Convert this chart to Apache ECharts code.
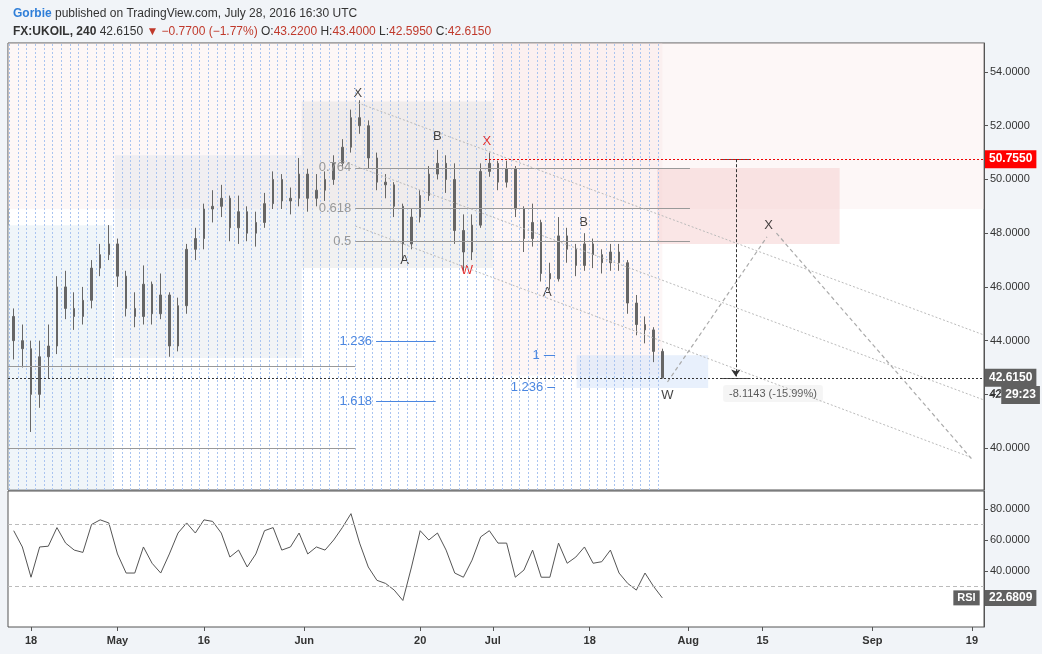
<!DOCTYPE html>
<html lang="en">
<head>
    <meta charset="UTF-8">
    <title>FX:UKOIL 240</title>
    <style>
        html, body { margin: 0; padding: 0; background: #f1f4f8; }
        #main { width: 1042px; height: 654px; }
    </style>
</head>
<body>
<div id="main"></div>
<script src="https://cdn.jsdelivr.net/npm/echarts@6/dist/echarts.min.js"></script>
<script type="text/javascript">
    // x = trading day index, 0 = Apr 18 2016
    var dayIdx = [];
    for (var d = -2; d <= 73; d++) dayIdx.push(d);
    // daily candles [open, close, low, high]
    var ohlc = [
        [44.9,44.0,43.3,45.2],[44.0,43.7,43.0,44.6],[43.7,42.0,40.6,44.0],[42.0,43.4,41.5,44.0],
        [43.4,43.8,42.6,44.6],[43.8,46.0,43.5,46.4],[46.0,45.2,44.8,46.6],[45.2,44.9,44.4,45.8],
        [44.9,45.5,44.6,46.0],[45.5,46.7,45.2,47.0],[46.7,47.2,46.4,47.6],[47.2,47.6,47.0,48.3],
        [47.6,46.4,46.0,47.8],[46.4,45.2,44.9,46.6],[45.2,44.9,44.5,45.8],[44.9,46.1,44.6,46.8],
        [46.1,45.0,44.6,46.2],[45.0,45.7,44.8,46.5],[45.7,43.8,43.4,45.8],[43.8,45.3,43.6,45.6],
        [45.3,47.4,45.0,47.6],[47.4,47.8,47.0,48.2],[47.8,48.9,47.4,49.1],[48.9,49.0,48.4,49.6],
        [49.0,49.3,48.6,49.8],[49.3,48.2,47.7,49.4],[48.2,48.8,47.6,49.4],[48.8,48.0,47.7,49.0],
        [48.0,48.4,47.5,48.8],[48.4,49.1,48.2,49.5],[49.1,50.0,48.9,50.3],[50.0,49.2,48.9,50.2],
        [49.2,49.3,48.7,49.7],[49.3,50.2,49.0,50.8],[50.2,49.3,48.8,50.4],[49.3,49.6,49.0,50.2],
        [49.6,50.0,49.2,50.3],[50.0,50.6,49.8,50.9],[50.6,51.2,50.4,51.5],[51.2,52.3,51.0,52.6],
        [52.3,52.0,51.7,52.95],[52.0,50.8,50.4,52.2],[50.8,49.9,49.6,51.0],[49.9,49.8,49.3,50.2],
        [49.8,49.0,48.6,49.9],[49.0,47.6,47.0,49.1],[47.6,48.6,47.4,48.9],[48.6,49.4,48.4,49.6],
        [49.4,50.2,49.2,50.5],[50.2,50.6,50.0,51.1],[50.6,50.0,49.5,50.9],[50.0,48.1,47.6,50.6],
        [48.1,47.3,46.6,48.7],[47.3,48.3,47.0,48.7],[48.3,50.3,48.2,50.6],[50.3,50.6,50.1,51.0],
        [50.6,49.9,49.6,50.7],[49.9,50.4,49.7,50.7],[50.4,48.9,48.6,50.5],[48.9,47.8,47.3,49.0],
        [47.8,48.4,47.5,49.1],[48.4,46.5,46.2,48.5],[46.5,46.3,45.9,46.9],[46.3,47.9,46.2,48.6],
        [47.9,47.4,46.9,48.2],[47.4,46.8,46.4,47.6],[46.8,47.6,46.6,48.0],[47.6,47.2,46.7,47.8],
        [47.2,46.9,46.5,47.4],[46.9,47.3,46.6,47.6],[47.3,46.9,46.6,47.6],[46.9,45.4,45.0,47.0],
        [45.4,44.6,44.2,45.7],[44.6,44.4,43.9,44.9],[44.4,43.6,43.2,44.5],[43.6,42.615,42.595,43.7]
    ];
    var rsi = [66,55.5,36,55.5,56,68,58,53.5,52,70,73,71,51,38.7,38.7,55.5,45,38.7,51,64.5,
        71,64.5,73,72,64.5,49,53.5,42.6,51,66,68,53.5,55.5,64.5,51,55.5,53.5,60,68,77,
        58,42.6,34,32,27.7,21,42.6,66,60,64.5,53.5,38.7,36,47,62,66,58,58,36,40.6,
        53.5,36,36,58,45,49,55.5,45,46,53.5,38.7,32,27.7,38.7,30,22.68];
    var tickDays = [0, 10, 20, 31.6, 45, 53.4, 64.6, 76, 84.6, 97.3, 108.8];
    var tickNames = ['18', 'May', '16', 'Jun', '20', 'Jul', '18', 'Aug', '15', 'Sep', '19'];
    var priceTicks = [40, 42, 44, 46, 48, 50, 52, 54];
    var rsiTicks = [40, 60, 80];
    var lastPrice = 42.615, swingHigh = 50.755, lastRsi = 22.6809;
    var measureText = '-8.1143 (-15.99%)';
    var fibRet = [[0.764, 50.43], [0.618, 48.94], [0.5, 47.71]];
    var fibExt = [['1.236', 43.98, 39.9, 46.8], ['1.618', 41.75, 39.9, 46.8], ['1', 43.46, 59.3, 60.6], ['1.236', 42.27, 59.7, 60.6]];
    var waves = [[37.8, 53.2, 'X', '#111'], [43.2, 47.0, 'A', '#111'], [47, 51.6, 'B', '#111'],
        [50.4, 46.6, 'W', '#d00'], [52.7, 51.4, 'X', '#d00'], [59.7, 45.8, 'A', '#111'],
        [63.9, 48.4, 'B', '#111'], [73.6, 41.95, 'W', '#111'], [85.3, 48.3, 'X', '#111']];

    var X0 = -2.66, X1 = 110.2;
    var chart = echarts.init(document.getElementById('main'));
    var gridColor = '#555';
    var clear = 'rgba(0,0,0,0)';
    var candles = dayIdx.map(function (d, k) { return [d].concat(ohlc[k]); });
    var rsiData = dayIdx.map(function (d, k) { return [d, rsi[k]]; });
    var sessionLines = dayIdx.map(function (d) { return { xAxis: d - 0.5 }; });
    var dotted = { color: '#bbb', type: [2, 2], width: 1 };
    var darkTag = { show: true, position: 'end', color: '#fff', backgroundColor: '#606060',
        padding: [3, 4], fontSize: 12, fontWeight: 'bold', distance: 1 };

    var option = {
        animation: false,
        backgroundColor: '#f1f4f8',
        title: [{
            left: 8, top: 3,
            text: '{b|Gorbie} published on TradingView.com, July 28, 2016 16:30 UTC',
            textStyle: { fontSize: 12, fontWeight: 'normal', color: '#333', fontFamily: 'Arial',
                rich: { b: { color: '#2f7ed8', fontWeight: 'bold', fontSize: 12 } } }
        }, {
            left: 8, top: 21,
            text: '{k|FX:UKOIL, 240} 42.6150 {r|▼ −0.7700 (−1.77%)} O:{r|43.2200} H:{r|43.4000} L:{r|42.5950} C:{r|42.6150}',
            textStyle: { fontSize: 12, fontWeight: 'normal', color: '#333', fontFamily: 'Arial',
                rich: { k: { fontWeight: 'bold', fontSize: 12 }, r: { color: '#c0392b', fontSize: 12 } } }
        }],
        grid: [
            { left: 8, right: 58, top: 43, height: 447, show: true, backgroundColor: '#fff', borderColor: gridColor },
            { left: 8, right: 58, top: 491, height: 136, show: true, backgroundColor: '#fff', borderColor: gridColor }
        ],
        xAxis: [
            { type: 'value', gridIndex: 0, min: X0, max: X1, axisLine: { show: false }, axisTick: { show: false },
              axisLabel: { show: false }, splitLine: { show: false } },
            { type: 'value', gridIndex: 1, min: X0, max: X1, axisLine: { show: false },
              axisTick: { show: true, customValues: tickDays, length: 4, lineStyle: { color: '#555' } },
              axisLabel: { customValues: tickDays, fontSize: 11, fontWeight: 'bold', color: '#333', margin: 8,
                  formatter: function (v) { var k = tickDays.indexOf(v); return k < 0 ? '' : tickNames[k]; } },
              splitLine: { show: false } }
        ],
        yAxis: [
            { type: 'value', gridIndex: 0, position: 'right', min: 38.44, max: 55.08,
              axisLine: { show: true, onZero: false, lineStyle: { color: gridColor } },
              axisTick: { show: true, customValues: priceTicks, length: 4 },
              axisLabel: { customValues: priceTicks, fontSize: 11, color: '#333', margin: 6,
                  formatter: function (v) { return v.toFixed(4); } },
              splitLine: { show: false } },
            { type: 'value', gridIndex: 1, position: 'right', min: 3.9, max: 91.6,
              axisLine: { show: true, onZero: false, lineStyle: { color: gridColor } },
              axisTick: { show: true, customValues: rsiTicks, length: 4 },
              axisLabel: { customValues: rsiTicks, fontSize: 11, color: '#333', margin: 6,
                  formatter: function (v) { return v.toFixed(4); } },
              splitLine: { show: false } }
        ],
        series: [
            {   // shaded zones
                type: 'line', xAxisIndex: 0, yAxisIndex: 0, data: [], silent: true,
                markArea: { silent: true, data: [
                    [{ coord: [X0, 55.08], itemStyle: { color: 'rgba(250,228,228,0.3)' } }, { coord: [X1, 48.9] }],
                    [{ coord: [X0, 48.3], itemStyle: { color: 'rgba(215,230,240,0.4)' } }, { coord: [9.4, 38.44] }],
                    [{ coord: [9.7, 50.9], itemStyle: { color: 'rgba(215,222,228,0.35)' } }, { coord: [31.3, 43.35] }],
                    [{ coord: [31.3, 52.9], itemStyle: { color: 'rgba(215,215,215,0.35)' } }, { coord: [53.4, 46.7] }],
                    [{ coord: [53.4, 55.08], itemStyle: { color: 'rgba(250,225,225,0.3)' } }, { coord: [73.0, 42.7] }],
                    [{ coord: [72.4, 50.43], itemStyle: { color: 'rgba(245,205,205,0.5)' } }, { coord: [93.5, 47.6] }],
                    [{ coord: [63.1, 43.46], itemStyle: { color: 'rgba(210,225,250,0.5)' } }, { coord: [78.3, 42.24] }]
                ] }
            },
            {
                type: 'candlestick', xAxisIndex: 0, yAxisIndex: 0, barWidth: 2,
                encode: { x: 0, y: [1, 2, 3, 4] },
                data: candles,
                itemStyle: { color: '#666', color0: '#666', borderColor: '#666', borderColor0: '#666', borderWidth: 1 },
                markLine: { silent: true, symbol: 'none', label: { show: false },
                    lineStyle: { color: '#a9c4f0', type: [2, 2], width: 1 },
                    data: sessionLines }
            },
            {   // levels, fib and channels
                type: 'line', xAxisIndex: 0, yAxisIndex: 0, data: [], silent: true,
                markLine: { silent: true, symbol: 'none', data: [
                    [{ coord: [X0, 43.05], lineStyle: { color: '#999', type: 'solid' } }, { coord: [37.5, 43.05] }],
                    [{ coord: [X0, 40.0], lineStyle: { color: '#999', type: 'solid' } }, { coord: [37.5, 40.0] }]
                ].concat(fibRet.map(function (f) {
                    return [{ coord: [37.5, f[1]], lineStyle: { color: '#999', type: 'solid' },
                        label: { show: true, position: 'start', formatter: String(f[0]), color: '#999', fontSize: 13, distance: 4 } },
                        { coord: [76.2, f[1]] }];
                })).concat(fibExt.map(function (f) {
                    return [{ coord: [f[2], f[1]], lineStyle: { color: '#4a86e0', type: 'solid' },
                        label: { show: true, position: 'start', formatter: f[0], color: '#4a86e0', fontSize: 13, distance: 4 } },
                        { coord: [f[3], f[1]] }];
                })).concat([
                    [{ coord: [37.8, 52.85], lineStyle: dotted }, { coord: [X1, 44.21] }],
                    [{ coord: [35.7, 50.72], lineStyle: dotted }, { coord: [X1, 41.79] }],
                    [{ coord: [37.5, 48.27], lineStyle: dotted }, { coord: [108.9, 39.63] }],
                    [{ coord: [73.6, 42.46], lineStyle: { color: '#aaa', type: [4, 3], width: 1.2 } }, { coord: [85.1, 47.86] }],
                    [{ coord: [86.2, 48.0], lineStyle: { color: '#aaa', type: [4, 3], width: 1.2 } }, { coord: [108.9, 39.55] }],
                    [{ coord: [79.7, swingHigh], lineStyle: { color: '#555', type: 'solid' } }, { coord: [83.2, swingHigh] }],
                    [{ coord: [79.7, lastPrice], lineStyle: { color: '#555', type: 'solid' } }, { coord: [83.2, lastPrice] }],
                    [{ coord: [81.5, swingHigh], symbol: 'none', lineStyle: { color: '#333', type: [3, 2] } },
                     { coord: [81.5, lastPrice + 0.05], symbol: 'arrow', symbolSize: 7 }],
                    [{ coord: [52.5, swingHigh], lineStyle: { color: '#e00', type: [2, 2] },
                        label: { show: true, position: 'end', formatter: swingHigh.toFixed(4), color: '#fff', backgroundColor: '#f00',
                            padding: [3, 4], fontSize: 12, fontWeight: 'bold', distance: 1 } },
                     { coord: [X1, swingHigh] }],
                    [{ coord: [X0, lastPrice], lineStyle: { color: '#333', type: [2, 2] },
                        label: Object.assign({}, darkTag, { formatter: lastPrice.toFixed(4) }) },
                     { coord: [X1, lastPrice] }],
                    [{ coord: [X1 - 1, 41.98], lineStyle: { color: clear, width: 1 },
                        label: { show: true, position: 'end', distance: 1, formatter: '{a|42}{t|29:23}',
                            rich: { a: { color: '#333', fontSize: 11, padding: [0, 0, 0, 4] },
                                    t: { color: '#fff', fontWeight: 'bold', fontSize: 12, backgroundColor: '#606060', padding: [3, 4] } } } },
                     { coord: [X1, 41.98] }]
                ]) }
            },
            {   // wave labels
                type: 'scatter', xAxisIndex: 0, yAxisIndex: 0, symbolSize: 0, silent: true,
                data: waves.map(function (w) {
                    return { value: [w[0], w[1]], label: { show: true, formatter: w[2], color: w[3], fontSize: 13, position: 'inside' } };
                })
            },
            {   // measure box text
                type: 'scatter', xAxisIndex: 0, yAxisIndex: 0, symbolSize: 0, silent: true,
                data: [
                    { value: [85.8, 42.03], label: { show: true, position: 'inside', fontSize: 11, color: '#333',
                        backgroundColor: '#f2f2f2', padding: [3, 6], borderRadius: 3, formatter: measureText } }
                ]
            },
            {
                type: 'line', xAxisIndex: 1, yAxisIndex: 1, data: rsiData, symbol: 'none', silent: true,
                lineStyle: { color: '#555', width: 1 },
                markLine: { silent: true, symbol: 'none',
                    lineStyle: { color: '#bbb', type: [4, 3], width: 1 },
                    data: [{ yAxis: 70, label: { show: false } }, { yAxis: 30, label: { show: false } }]
                }
            },
            {
                type: 'line', xAxisIndex: 1, yAxisIndex: 1, data: [], silent: true,
                markLine: { silent: true, symbol: 'none',
                    data: [[{ coord: [X1 - 0.5, lastRsi], lineStyle: { color: clear, width: 1 },
                        label: { show: true, position: 'start', distance: 0, formatter: '{r|RSI}',
                            rich: { r: { color: '#fff', backgroundColor: '#606060', padding: [2, 4], fontSize: 11, fontWeight: 'bold' } } } },
                        { coord: [X1, lastRsi] }],
                        [{ coord: [X1 - 1, lastRsi], lineStyle: { color: clear, width: 1 },
                        label: Object.assign({}, darkTag, { formatter: lastRsi.toFixed(4), padding: [2, 4] }) },
                        { coord: [X1, lastRsi] }]]
                }
            }
        ]
    };
    chart.setOption(option);
</script>
</body>
</html>
